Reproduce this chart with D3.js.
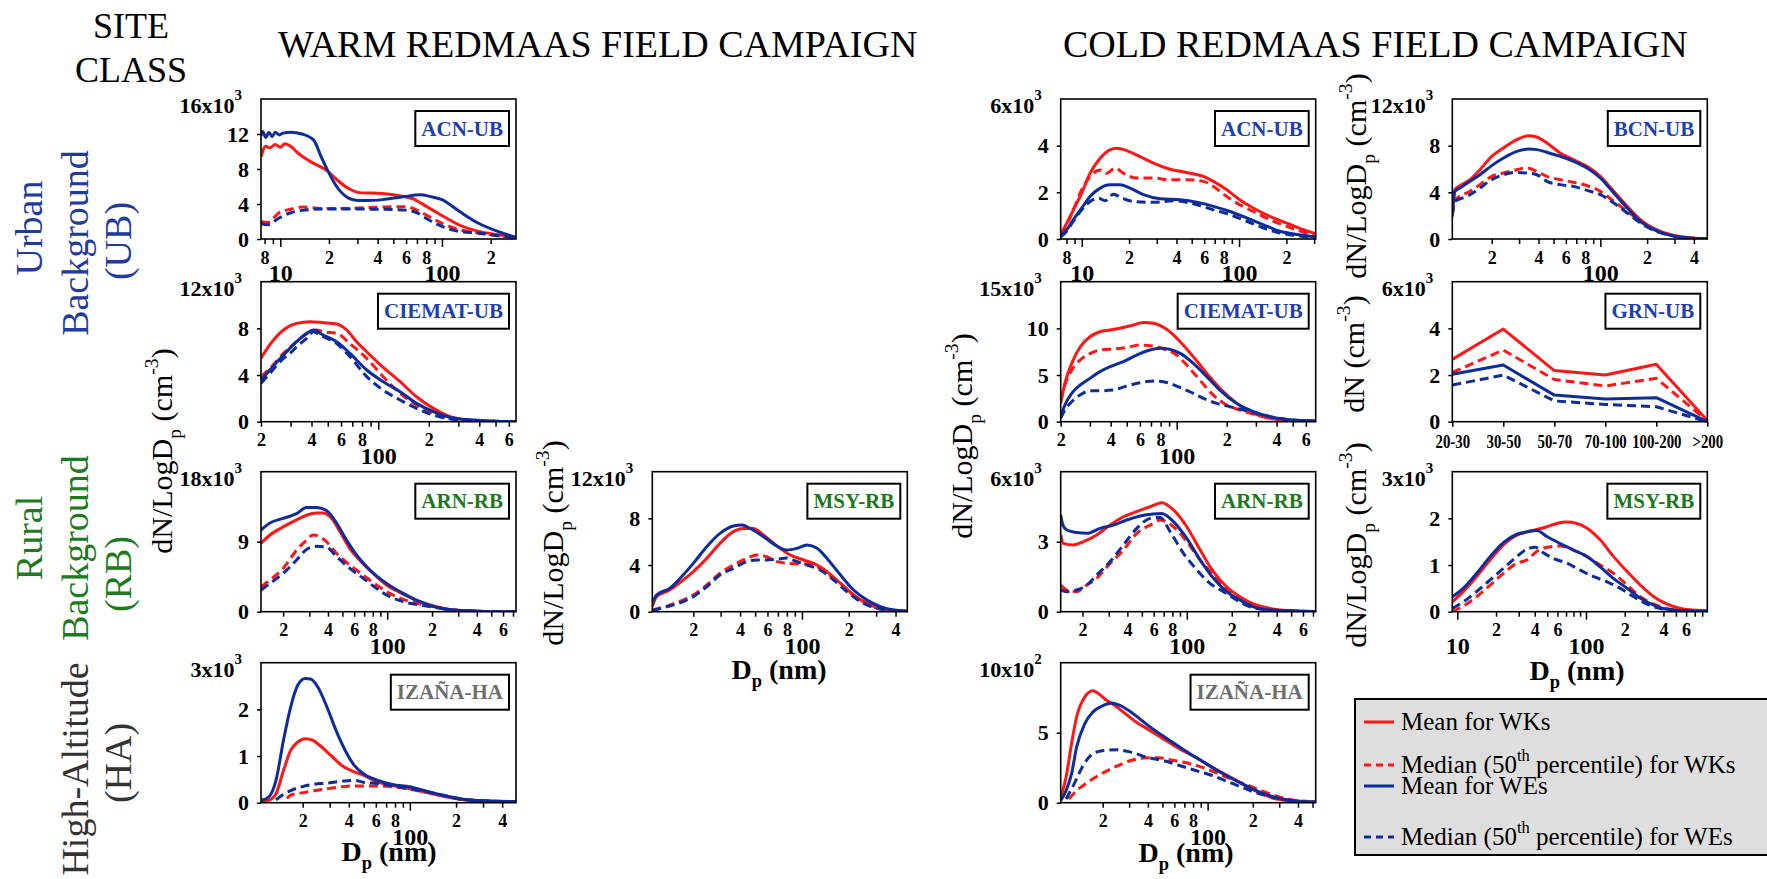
<!DOCTYPE html>
<html>
<head>
<meta charset="utf-8">
<script src="https://cdn.jsdelivr.net/npm/d3@7"></script>
<style>
  body { margin: 0; background: #fff; }
  svg { display: block; }
  text { font-family: "Liberation Serif", "Times New Roman", serif; }
</style>
</head>
<body>
<svg id="chart" width="1767" height="879"></svg>
<script>
// ---------- Size distributions: [Dp (nm), dN/dlogDp (x10^3 cm^-3)] ----------
// WARM campaign
const warmAcnWkMean = [[7.61,9.4],[8.13,10.6],[8.6,10.4],[9.32,10.8],[10.0,10.5],[10.7,10.9],[11.6,10.6],[12.9,9.8],[15.2,8.9],[19.8,7.7],[22.3,6.8],[26.3,5.8],[30.9,5.3],[42.9,5.2],[56.4,4.9],[66.4,4.6],[74.1,4.1],[97.3,2.8],[128,1.6],[168,0.87],[221,0.5],[287,0.2]];
const warmAcnWkMedian = [[7.61,2.0],[8.35,1.9],[9.84,3.0],[11.6,3.4],[13.65,3.65],[17.9,3.5],[24.9,3.5],[42.9,3.65],[59.6,3.7],[70.1,3.3],[82.6,2.6],[100,1.8],[128,1.06],[168,0.68],[221,0.38],[287,0.19]];
const warmAcnWeMean = [[7.61,11.8],[7.8,12.3],[8.13,11.6],[8.5,12.2],[8.9,11.7],[9.32,12.2],[9.84,11.9],[10.4,12.1],[11.6,12.2],[13.65,12.0],[16.1,11.3],[17.9,9.4],[19.8,7.7],[22.3,6.0],[26.3,4.7],[30.1,4.4],[34.5,4.4],[42.9,4.5],[56.4,4.8],[74.1,5.06],[82.6,4.9],[100,4.5],[128,3.16],[168,1.8],[221,0.87],[287,0.2]];
const warmAcnWeMedian = [[7.61,1.75],[8.35,1.63],[9.84,2.4],[11.6,3.0],[13.65,3.27],[17.9,3.42],[24.9,3.42],[42.9,3.4],[59.6,3.3],[70.1,3.0],[82.6,2.2],[100,1.44],[128,0.87],[168,0.68],[221,0.38],[287,0.15]];

const warmCiematWkMean = [[20,5.43],[22.6,6.6],[27.2,7.86],[32.6,8.43],[39.2,8.57],[47,8.49],[56.5,8.37],[64.8,7.86],[74.3,6.86],[85.3,6.0],[107,4.66],[135,3.43],[169,2.14],[213,1.14],[268,0.43],[336,0.14],[423,0.06],[531,0.02],[662,0]];
const warmCiematWkMedian = [[20,3.86],[22.6,4.57],[27.2,5.86],[32.6,6.86],[39.2,7.7],[42.9,7.86],[47,7.7],[56.5,7.57],[67.8,6.7],[85.3,5.43],[107,3.86],[135,2.43],[169,1.43],[213,0.71],[268,0.29],[423,0.06],[662,0]];
const warmCiematWeMean = [[20,3.57],[22.6,4.43],[27.2,5.71],[32.6,6.86],[37.4,7.57],[41,7.86],[47,7.43],[56.5,6.86],[67.8,5.86],[85.3,4.43],[107,3.43],[135,2.57],[169,1.57],[213,0.86],[268,0.37],[423,0.09],[662,0]];
const warmCiematWeMedian = [[20,3.29],[22.6,4.14],[27.2,5.43],[29.8,5.86],[32.6,6.43],[37.4,7.14],[41,7.7],[47,7.29],[56.5,6.7],[67.8,5.57],[85.3,3.86],[107,2.71],[135,1.86],[169,1.14],[213,0.57],[268,0.23],[423,0.06],[662,0]];

const warmArnWkMean = [[14.2,8.8],[16.3,9.86],[20,10.9],[24.6,11.8],[28.7,12.4],[33.5,12.7],[37.1,12.7],[42.3,12.0],[48.1,10.3],[56.1,8.1],[65.5,6.6],[80.5,4.93],[99,3.43],[128,2.27],[166,1.29],[215,0.64],[278,0.21],[442,0.04],[732,0]];
const warmArnWkMedian = [[14.2,3.2],[16.3,4.07],[20,5.57],[24.6,7.9],[28.7,9.2],[31.8,9.86],[35.3,9.64],[39.1,9.0],[45.7,7.5],[56.1,6.0],[69,4.7],[84.8,3.43],[104,2.36],[128,1.59],[166,0.99],[215,0.56],[278,0.21],[442,0.04],[732,0]];
const warmArnWeMean = [[14.2,10.5],[16.3,11.4],[20,12.0],[24.6,12.6],[28.7,13.4],[33.5,13.4],[39.1,13.0],[45.7,11.4],[53.3,9.2],[62.2,7.3],[76.5,5.36],[99,3.64],[128,2.36],[166,1.29],[215,0.56],[278,0.21],[442,0.04],[732,0]];
const warmArnWeMedian = [[14.2,2.79],[16.3,3.64],[20,4.93],[24.6,6.64],[28.7,8.0],[33.5,8.4],[39.1,8.3],[45.7,7.07],[56.1,5.57],[69,4.29],[84.8,3.0],[104,1.93],[128,1.29],[166,0.86],[215,0.51],[278,0.21],[442,0.04],[732,0]];

const warmMsyWkMean = [[10.9,0.43],[11.6,1.29],[14.1,1.86],[17.2,2.71],[20,3.43],[24.4,4.57],[29.7,5.86],[36.2,6.86],[42,7.14],[48.8,7.14],[56.6,6.57],[69,5.63],[84.1,4.86],[102.5,4.43],[125,4.0],[145,3.43],[177,2.43],[215,1.43],[262,0.71],[320,0.29],[476,0.03]];
const warmMsyWkMedian = [[10.9,0.14],[14.1,0.57],[17.2,1.0],[20,1.43],[24.4,2.29],[29.7,3.29],[36.2,4.0],[44.2,4.57],[51.3,4.86],[59.4,4.71],[69,4.29],[84.1,4.14],[102.5,4.09],[125,3.86],[145,3.29],[177,2.43],[215,1.43],[262,0.71],[320,0.23],[476,0]];
const warmMsyWeMean = [[10.9,0.71],[11.6,1.43],[14.1,2.0],[17.2,3.14],[20,4.14],[24.4,5.57],[29.7,6.71],[36.2,7.34],[41,7.43],[46.4,7.14],[56.6,6.43],[69,5.63],[80,5.29],[92.8,5.43],[107.7,5.71],[125,5.43],[145,4.57],[177,3.14],[215,1.86],[262,1.0],[320,0.43],[390,0.14],[476,0.05]];
const warmMsyWeMedian = [[10.9,0.09],[14.1,0.49],[17.2,0.86],[20,1.29],[24.4,2.14],[29.7,3.14],[36.2,3.71],[44.2,4.29],[51.3,4.43],[59.4,4.43],[69,4.5],[80,4.6],[88.3,4.4],[107.7,4.0],[131,3.57],[160,2.71],[195,1.71],[238,0.86],[290,0.37],[476,0]];

const warmIzaWkMean = [[10.7,0.03],[12.0,0.05],[13.4,0.19],[15.0,0.69],[16.7,1.12],[18.6,1.3],[20.8,1.37],[23.2,1.34],[25.8,1.23],[30.4,1.02],[35.9,0.8],[43.4,0.66],[49.7,0.59],[61.9,0.44],[77,0.37],[100,0.3],[133,0.21],[175,0.12],[229,0.06],[492,0.02]];
const warmIzaWkMedian = [[15.8,0.09],[16.7,0.16],[19.7,0.21],[23.2,0.25],[28.8,0.3],[35.9,0.34],[43.4,0.36],[49.7,0.36],[61.9,0.36],[77,0.34],[100,0.29],[133,0.21],[175,0.14],[229,0.07],[492,0.02]];
const warmIzaWeMean = [[10.7,0.05],[12.0,0.12],[13.4,0.48],[15.0,1.34],[16.7,2.05],[18.6,2.52],[20.8,2.66],[22.5,2.65],[25.1,2.48],[28.8,2.05],[33,1.55],[37.9,1.12],[43.4,0.8],[49.7,0.62],[61.9,0.48],[77,0.39],[100,0.34],[133,0.23],[175,0.14],[229,0.07],[318,0.04],[492,0.02]];
const warmIzaWeMedian = [[13.4,0.06],[15.0,0.18],[16.7,0.26],[19.7,0.34],[23.2,0.39],[28.8,0.42],[35.9,0.46],[43.4,0.48],[49.7,0.44],[61.9,0.41],[77,0.36],[100,0.3],[133,0.23],[175,0.14],[229,0.06],[492,0.02]];

// COLD campaign
const coldAcnWkMean = [[7.35,0.19],[8.03,0.68],[8.85,1.25],[10,1.97],[11.3,2.82],[13.1,3.46],[15.1,3.82],[16.7,3.89],[19.3,3.79],[23.5,3.53],[28.6,3.25],[36.4,2.99],[46.5,2.85],[59.4,2.68],[68.7,2.47],[83.5,2.11],[101,1.68],[123,1.33],[157,0.97],[201,0.68],[256,0.4],[307,0.23]];
const coldAcnWkMedian = [[7.35,0.19],[8.03,0.61],[8.85,1.25],[10,2.11],[11.3,2.68],[13.1,2.96],[14.4,2.82],[16.3,3.04],[18.4,2.82],[22.4,2.61],[28.6,2.61],[36.4,2.54],[46.5,2.54],[59.4,2.47],[68.7,2.25],[83.5,1.82],[101,1.47],[123,1.18],[157,0.83],[201,0.54],[256,0.3],[307,0.14]];
const coldAcnWeMean = [[7.35,0.11],[8.03,0.4],[8.85,0.83],[10,1.33],[11.3,1.82],[13.1,2.18],[15.1,2.32],[17.5,2.32],[20.3,2.18],[24.7,1.9],[31.5,1.72],[42.2,1.68],[53.8,1.58],[68.7,1.4],[87.7,1.18],[112,0.9],[143,0.61],[182,0.33],[233,0.19],[307,0.09]];
const coldAcnWeMedian = [[7.35,0.09],[8.03,0.33],[8.85,0.76],[10,1.25],[11.3,1.61],[12.8,1.75],[14.1,1.64],[15.9,1.92],[18.0,1.75],[21.3,1.61],[28.6,1.57],[38.3,1.64],[51.3,1.51],[68.7,1.25],[87.7,1.04],[112,0.76],[143,0.47],[182,0.26],[233,0.14],[307,0.06]];

const coldBcnWkMean = [[11.15,1.94],[11.6,4.23],[12.5,4.57],[14.5,5.09],[16.8,5.94],[20,7.09],[23.8,7.8],[29,8.51],[34.5,8.86],[39,8.74],[45.3,8.23],[55.2,7.37],[67.3,6.8],[82.1,6.23],[100,5.37],[122,4.09],[149,2.8],[181,1.66],[221,0.89],[283,0.37],[362,0.14],[488,0.03]];
const coldBcnWkMedian = [[11.15,1.94],[11.6,3.37],[12.5,3.66],[14.5,4.09],[16.8,4.66],[20,5.37],[23.8,5.66],[29,5.94],[33.6,6.09],[39,5.8],[45.3,5.37],[55.2,5.09],[67.3,4.86],[82.1,4.57],[100,4.09],[122,3.23],[149,2.37],[181,1.51],[221,0.86],[283,0.37],[362,0.11],[488,0.03]];
const coldBcnWeMean = [[11.15,2.23],[11.6,4.09],[12.5,4.37],[14.5,4.94],[16.8,5.51],[20,6.29],[23.8,6.94],[29,7.51],[34.5,7.71],[39,7.66],[45.3,7.43],[55.2,7.09],[67.3,6.66],[82.1,6.09],[100,5.23],[122,3.94],[149,2.66],[181,1.51],[221,0.8],[283,0.31],[362,0.09],[488,0.03]];
const coldBcnWeMedian = [[11.15,2.09],[11.6,3.23],[12.5,3.43],[14.5,3.8],[16.8,4.37],[20,5.09],[23.8,5.51],[29,5.71],[33.6,5.66],[39,5.51],[45.3,4.94],[55.2,4.66],[67.3,4.51],[82.1,4.17],[100,3.8],[122,3.09],[149,2.23],[181,1.37],[221,0.74],[283,0.31],[362,0.09],[488,0.03]];

const coldCiematWkMean = [[20,1.96],[21.2,4.1],[23.3,6.25],[26.2,8.0],[30,9.1],[34.5,9.64],[39.7,9.82],[47.7,10.1],[54.8,10.36],[63,10.64],[72.3,10.54],[87,9.9],[105,8.57],[126,6.96],[152,5.18],[182,3.57],[230,1.96],[290,0.89],[365,0.36],[460,0.14],[688,0.04]];
const coldCiematWkMedian = [[20,2.3],[21.2,3.93],[23.3,5.54],[26.2,6.6],[30,7.3],[34.5,7.68],[41.5,7.79],[50,7.96],[60.1,8.21],[72.3,8.1],[87,7.68],[100,7.14],[115,6.07],[138,4.46],[166,2.86],[200,1.79],[241,1.25],[290,0.82],[365,0.43],[460,0.18],[688,0.04]];
const coldCiematWeMean = [[20,0.54],[21.2,1.79],[23.3,3.04],[26.2,3.93],[30,4.64],[34.5,5.36],[39.7,5.89],[47.7,6.43],[57.4,7.14],[69,7.68],[79.3,7.86],[91.1,7.75],[105,7.32],[126,6.25],[152,4.82],[182,3.39],[230,1.96],[290,1.07],[365,0.54],[460,0.25],[688,0.07]];
const coldCiematWeMedian = [[20,0.36],[21.2,1.25],[23.3,2.14],[26.2,2.86],[30,3.32],[34.5,3.32],[41.5,3.39],[50,3.82],[60.1,4.18],[72.3,4.36],[83.1,4.29],[100,3.82],[120,3.21],[145,2.5],[174,1.96],[209,1.61],[252,1.25],[303,0.89],[365,0.54],[460,0.25],[688,0.07]];

const coldArnWkMean = [[14.3,3.29],[14.9,2.93],[17.4,2.86],[20.3,3.0],[24.9,3.29],[30.6,3.71],[37.6,4.07],[46.2,4.29],[56.8,4.5],[68,4.67],[81.4,4.36],[100,3.64],[123,2.64],[151,1.71],[185,1.07],[227,0.64],[279,0.33],[361,0.14],[467,0.04],[730,0]];
const coldArnWkMedian = [[14.3,1.14],[15.7,0.93],[18.3,0.86],[21.4,1.14],[24.9,1.43],[30.6,2.07],[37.6,2.64],[46.2,3.36],[56.8,3.71],[66.3,3.93],[81.4,3.64],[100,3.0],[123,2.21],[151,1.57],[185,1.0],[227,0.57],[279,0.29],[361,0.11],[730,0]];
const coldArnWeMean = [[14.3,4.14],[14.8,3.71],[15.7,3.5],[18.3,3.39],[21.4,3.36],[26.3,3.57],[32.3,3.71],[39.6,3.93],[48.7,4.1],[59.8,4.19],[68,4.21],[81.4,3.86],[100,3.14],[123,2.21],[151,1.43],[185,0.86],[227,0.5],[279,0.21],[361,0.07],[730,0.01]];
const coldArnWeMedian = [[14.3,0.93],[15.7,0.86],[18.3,0.93],[21.4,1.14],[24.9,1.57],[30.6,2.14],[37.6,2.86],[46.2,3.57],[56.8,4.0],[66.3,4.04],[77.3,3.43],[95,2.5],[117,1.79],[143,1.21],[176,0.86],[216,0.5],[265,0.21],[361,0.07],[730,0]];

const coldMsyWkMean = [[9.14,0.21],[11.1,0.43],[14.1,0.75],[18,1.11],[22.8,1.43],[29,1.64],[34.7,1.71],[41.5,1.76],[49.7,1.82],[59.4,1.89],[71.1,1.92],[85.1,1.89],[102,1.79],[129,1.54],[164,1.18],[209,0.86],[265,0.57],[337,0.32],[428,0.16],[543,0.07],[733,0.03],[877,0.02]];
const coldMsyWkMedian = [[9.14,0.0],[11.1,0.12],[14.1,0.32],[18,0.57],[22.8,0.82],[29,1.04],[34.7,1.11],[41.5,1.29],[49.7,1.38],[63.1,1.41],[80.1,1.32],[102,1.18],[129,1.0],[164,0.82],[209,0.57],[265,0.32],[337,0.16],[428,0.07],[612,0.02]];
const coldMsyWeMean = [[9.14,0.32],[11.1,0.5],[14.1,0.82],[18,1.18],[22.8,1.48],[29,1.66],[34.7,1.71],[41.5,1.74],[49.7,1.61],[63.1,1.46],[80.1,1.32],[102,1.18],[129,0.96],[164,0.71],[209,0.5],[265,0.29],[337,0.14],[428,0.05],[612,0.02],[877,0.01]];
const coldMsyWeMedian = [[9.14,0.07],[11.1,0.21],[14.1,0.43],[18,0.68],[22.8,0.93],[29,1.18],[34.7,1.34],[40.3,1.38],[46.8,1.26],[56,1.14],[71.1,1.04],[90.3,0.89],[115,0.75],[146,0.64],[185,0.5],[235,0.32],[299,0.16],[379,0.07],[612,0.02]];

// IZAÑA cold values are in units of 10^2 cm^-3
const coldIzaWkMean = [[10.5,0.38],[11.4,1.82],[12.4,4.21],[13.4,6.12],[15.2,7.56],[17.2,7.99],[18.7,7.8],[21.2,7.32],[24,6.96],[28.3,6.36],[33.4,5.77],[39.5,5.29],[50.6,4.57],[64.9,3.85],[83.3,3.25],[107,2.54],[149,1.7],[207,0.86],[289,0.26],[402,0.1],[524,0.05]];
const coldIzaWkMedian = [[11.9,0.26],[13.4,0.86],[15.9,1.46],[18.7,1.94],[24,2.54],[30.8,3.01],[39.5,3.21],[46.6,3.21],[59.8,3.01],[76.6,2.78],[98.3,2.42],[126,1.94],[176,1.34],[245,0.74],[341,0.26],[524,0.05]];
const coldIzaWeMean = [[10.5,0.14],[11.4,0.86],[12.4,2.06],[13.4,3.97],[15.2,5.65],[17.2,6.48],[20.3,6.96],[23,7.13],[26.1,6.96],[30.8,6.48],[36.3,5.89],[42.9,5.29],[55,4.5],[70.5,3.73],[90.5,3.01],[116,2.3],[162,1.46],[225,0.74],[314,0.26],[402,0.1],[524,0.05]];
const coldIzaWeMedian = [[11.4,0.26],[12.9,1.34],[14.6,2.54],[17.2,3.49],[20.3,3.73],[25,3.78],[30.8,3.61],[39.5,3.25],[50.6,3.01],[64.9,2.66],[83.3,2.3],[107,1.94],[149,1.34],[207,0.74],[289,0.33],[402,0.1],[524,0.05]];

// GRN-UB: binned number concentrations (x10^3 cm^-3)
const grnBins = ["20-30", "30-50", "50-70", "70-100", "100-200", ">200"];
const grnWkMean = [2.67, 3.97, 2.19, 2.0, 2.46, 0.05];
const grnWkMedian = [2.11, 3.07, 1.81, 1.53, 1.86, 0.03];
const grnWeMean = [2.03, 2.43, 1.14, 0.97, 1.03, 0.0];
const grnWeMedian = [1.57, 2.0, 0.89, 0.74, 0.64, 0.0];

const legendLabels = ["Mean for WKs", "Median (50th percentile) for WKs", "Mean for WEs", "Median (50th percentile) for WEs"];

// ---------- styling & layout ----------
const W = 255, H = 140;
const RED = "#ff1616", BLUE = "#0e2d9c";
const SITE_COLORS = { UB: "#1f3faa", RB: "#1c7a1c", HA: "#6e6e6e" };
const seriesStyle = [
  { color: RED, dash: null },
  { color: RED, dash: "9,5" },
  { color: BLUE, dash: null },
  { color: BLUE, dash: "9,5" }
];

const logPanels = [
  { label: "ACN-UB", kind: "UB", left: 261, top: 99, xDomain: [7.6, 287], yMax: 16, yTicks: [0,4,8,12], topLabel: ["16x10", "3"], series: [warmAcnWkMean, warmAcnWkMedian, warmAcnWeMean, warmAcnWeMedian] },
  { label: "CIEMAT-UB", kind: "UB", left: 261, top: 281.7, xDomain: [20, 662], yMax: 12, yTicks: [0,4,8], topLabel: ["12x10", "3"], series: [warmCiematWkMean, warmCiematWkMedian, warmCiematWeMean, warmCiematWeMedian] },
  { label: "ARN-RB", kind: "RB", left: 261, top: 471.7, xDomain: [14.2, 733], yMax: 18, yTicks: [0,9], topLabel: ["18x10", "3"], series: [warmArnWkMean, warmArnWkMedian, warmArnWeMean, warmArnWeMedian] },
  { label: "MSY-RB", kind: "RB", left: 652.3, top: 471.7, xDomain: [10.9, 476], yMax: 12, yTicks: [0,4,8], topLabel: ["12x10", "3"], series: [warmMsyWkMean, warmMsyWkMedian, warmMsyWeMean, warmMsyWeMedian] },
  { label: "IZAÑA-HA", kind: "HA", left: 261, top: 662.7, xDomain: [10.7, 492], yMax: 3, yTicks: [0,1,2], topLabel: ["3x10", "3"], series: [warmIzaWkMean, warmIzaWkMedian, warmIzaWeMean, warmIzaWeMedian] },
  { label: "ACN-UB", kind: "UB", left: 1060.7, top: 99, xDomain: [7.35, 307], yMax: 6, yTicks: [0,2,4], topLabel: ["6x10", "3"], series: [coldAcnWkMean, coldAcnWkMedian, coldAcnWeMean, coldAcnWeMedian] },
  { label: "BCN-UB", kind: "UB", left: 1452.3, top: 99, xDomain: [11.15, 488], yMax: 12, yTicks: [0,4,8], topLabel: ["12x10", "3"], series: [coldBcnWkMean, coldBcnWkMedian, coldBcnWeMean, coldBcnWeMedian] },
  { label: "CIEMAT-UB", kind: "UB", left: 1060.7, top: 281.7, xDomain: [20, 688], yMax: 15, yTicks: [0,5,10], topLabel: ["15x10", "3"], series: [coldCiematWkMean, coldCiematWkMedian, coldCiematWeMean, coldCiematWeMedian] },
  { label: "ARN-RB", kind: "RB", left: 1060.7, top: 471.7, xDomain: [14.3, 730], yMax: 6, yTicks: [0,3], topLabel: ["6x10", "3"], series: [coldArnWkMean, coldArnWkMedian, coldArnWeMean, coldArnWeMedian] },
  { label: "MSY-RB", kind: "RB", left: 1452.3, top: 471.7, xDomain: [9.14, 877], yMax: 3, yTicks: [0,1,2], topLabel: ["3x10", "3"], minorLabels: [2,4,6], series: [coldMsyWkMean, coldMsyWkMedian, coldMsyWeMean, coldMsyWeMedian] },
  { label: "IZAÑA-HA", kind: "HA", left: 1060.7, top: 662.7, xDomain: [10.5, 525], yMax: 10, yTicks: [0,5], topLabel: ["10x10", "2"], series: [coldIzaWkMean, coldIzaWkMedian, coldIzaWeMean, coldIzaWeMedian] }
];

const svg = d3.select("#chart");
let clipId = 0;

// rich text helper: parts of {t, sub, sup}
function rich(textSel, parts, size) {
  let shift = 0;
  parts.forEach(p => {
    const target = p.sub ? size * 0.3 : p.sup ? -size * 0.48 : 0;
    textSel.append("tspan")
      .attr("dy", target - shift)
      .attr("font-size", (p.sub || p.sup) ? size * 0.66 : size)
      .text(p.t);
    shift = target;
  });
  return textSel;
}

function frameAndYAxis(g, y, p) {
  const ya = d3.axisLeft(y).tickValues(p.yTicks).tickSize(4).tickPadding(8).tickSizeOuter(0).tickFormat(d3.format("d"));
  const yg = g.append("g").call(ya);
  yg.select(".domain").remove();
  yg.selectAll("line").attr("stroke", "#000").attr("stroke-width", 1.5);
  yg.selectAll("text").attr("font-size", 22).attr("font-weight", "bold").attr("fill", "#000")
    .style("font-family", "'Liberation Serif', serif");
  const tl = g.append("text").attr("x", -19).attr("y", 14).attr("text-anchor", "end")
    .attr("font-weight", "bold").attr("fill", "#000");
  tl.append("tspan").attr("font-size", 22).text(p.topLabel[0]);
  tl.append("tspan").attr("font-size", 15).attr("dy", -13).text(p.topLabel[1]);
}

function siteBox(g, p) {
  const box = g.append("g");
  const rect = box.append("rect");
  const t = box.append("text").attr("font-size", 21).attr("font-weight", "bold")
    .attr("fill", SITE_COLORS[p.kind]).attr("text-anchor", "end").text(p.label);
  const tw = t.node().getComputedTextLength();
  const bw = tw + 12, bh = 35, bx = W - 7 - bw, by = 12;
  rect.attr("x", bx).attr("y", by).attr("width", bw).attr("height", bh)
    .attr("fill", "#fff").attr("stroke", "#000").attr("stroke-width", 2);
  t.attr("x", bx + bw - 6).attr("y", by + bh / 2 + 7);
}

function drawLogPanel(p) {
  const g = svg.append("g").attr("transform", `translate(${p.left},${p.top})`);
  const x = d3.scaleLog().domain(p.xDomain).range([0, W]);
  const y = d3.scaleLinear().domain([0, p.yMax]).range([H, 0]);

  const minor = [], decades = [];
  for (let d = 1; d <= 1000; d *= 10) {
    for (let m = 1; m <= 9; m++) {
      const v = m * d;
      if (v >= p.xDomain[0] * 0.999 && v <= p.xDomain[1] * 1.001) (m === 1 ? decades : minor).push(v);
    }
  }
  const labelled = p.minorLabels || [2, 4, 6, 8];
  const mAxis = d3.axisBottom(x).tickValues(minor).tickSize(5).tickPadding(7).tickSizeOuter(0)
    .tickFormat(v => { const m = Math.round(v / Math.pow(10, Math.floor(Math.log10(v) + 1e-9))); return labelled.includes(m) ? m : ""; });
  const mg = g.append("g").attr("transform", `translate(0,${H})`).call(mAxis);
  mg.select(".domain").remove();
  mg.selectAll("line").attr("stroke", "#000").attr("stroke-width", 1.5);
  mg.selectAll("text").attr("font-size", 18).attr("font-weight", "bold").attr("fill", "#000")
    .style("font-family", "'Liberation Serif', serif");

  const dAxis = d3.axisBottom(x).tickValues(decades).tickSize(8).tickPadding(17).tickSizeOuter(0).tickFormat(d3.format("d"));
  const dg = g.append("g").attr("transform", `translate(0,${H})`).call(dAxis);
  dg.select(".domain").remove();
  dg.selectAll("line").attr("stroke", "#000").attr("stroke-width", 1.5);
  dg.selectAll("text").attr("font-size", 24).attr("font-weight", "bold").attr("fill", "#000")
    .style("font-family", "'Liberation Serif', serif");

  frameAndYAxis(g, y, p);

  const cid = "clip" + (clipId++);
  g.append("clipPath").attr("id", cid).append("rect").attr("width", W).attr("height", H);
  const line = d3.line().x(d => x(d[0])).y(d => y(d[1])).curve(d3.curveMonotoneX);
  const lg = g.append("g").attr("clip-path", `url(#${cid})`);
  p.series.forEach((s, i) => {
    lg.append("path").attr("d", line(s)).attr("fill", "none")
      .attr("stroke", seriesStyle[i].color).attr("stroke-width", 3)
      .attr("stroke-dasharray", seriesStyle[i].dash)
      .attr("stroke-linejoin", "round");
  });

  g.append("rect").attr("width", W).attr("height", H).attr("fill", "none").attr("stroke", "#000").attr("stroke-width", 1.6);
  siteBox(g, p);
}

logPanels.forEach(drawLogPanel);

// GRN-UB binned panel
(function () {
  const p = { label: "GRN-UB", kind: "UB", left: 1452.3, top: 281.7, yMax: 6, yTicks: [0,2,4], topLabel: ["6x10", "3"] };
  const g = svg.append("g").attr("transform", `translate(${p.left},${p.top})`);
  const x = d3.scalePoint().domain(grnBins).range([0, W]);
  const y = d3.scaleLinear().domain([0, p.yMax]).range([H, 0]);
  const xa = d3.axisBottom(x).tickSize(5).tickPadding(8).tickSizeOuter(0);
  const xg = g.append("g").attr("transform", `translate(0,${H})`).call(xa);
  xg.select(".domain").remove();
  xg.selectAll("line").attr("stroke", "#000").attr("stroke-width", 1.5);
  xg.selectAll("text").attr("font-size", 19).attr("font-weight", "bold").attr("fill", "#000")
    .attr("transform", "scale(0.78,1)").style("font-family", "'Liberation Serif', serif");
  frameAndYAxis(g, y, p);
  const line = d3.line().x((d, i) => x(grnBins[i])).y(d => y(d));
  [grnWkMean, grnWkMedian, grnWeMean, grnWeMedian].forEach((s, i) => {
    g.append("path").attr("d", line(s)).attr("fill", "none")
      .attr("stroke", seriesStyle[i].color).attr("stroke-width", 3)
      .attr("stroke-dasharray", seriesStyle[i].dash).attr("stroke-linejoin", "round");
  });
  g.append("rect").attr("width", W).attr("height", H).attr("fill", "none").attr("stroke", "#000").attr("stroke-width", 1.6);
  siteBox(g, p);
})();

// ---------- titles ----------
svg.append("text").attr("x", 278).attr("y", 57).attr("font-size", 38).text("WARM REDMAAS FIELD CAMPAIGN");
svg.append("text").attr("x", 1063).attr("y", 57).attr("font-size", 38).text("COLD REDMAAS FIELD CAMPAIGN");
svg.append("text").attr("x", 131).attr("y", 38).attr("font-size", 36).attr("text-anchor", "middle").text("SITE");
svg.append("text").attr("x", 131).attr("y", 82).attr("font-size", 36).attr("text-anchor", "middle").text("CLASS");

// site class row labels (rotated)
function rowLabel(txt, bx, cy, color) {
  svg.append("text").attr("transform", `translate(${bx},${cy}) rotate(-90)`)
    .attr("text-anchor", "middle").attr("font-size", 38).attr("fill", color).text(txt);
}
rowLabel("Urban", 42, 228, "#1f3b9c");
rowLabel("Background", 88, 243, "#1f3b9c");
rowLabel("(UB)", 131, 241, "#1f3b9c");
rowLabel("Rural", 42, 538, "#1e7a1e");
rowLabel("Background", 88, 548, "#1e7a1e");
rowLabel("(RB)", 131, 574, "#1e7a1e");
rowLabel("High-Altitude", 88, 769, "#333");
rowLabel("(HA)", 131, 763, "#333");

// axis titles
const yTitleParts = [{ t: "dN/LogD" }, { t: "p", sub: true }, { t: " (cm" }, { t: "-3", sup: true }, { t: ")" }];
const grnTitleParts = [{ t: "dN (cm" }, { t: "-3", sup: true }, { t: ")" }];
function yTitle(parts, bx, cy) {
  const t = svg.append("text").attr("transform", `translate(${bx},${cy}) rotate(-90)`).attr("text-anchor", "middle").attr("fill", "#000");
  rich(t, parts, 30);
}
yTitle(yTitleParts, 172, 451);
yTitle(yTitleParts, 563, 543);
yTitle(yTitleParts, 972, 436);
yTitle(yTitleParts, 1366, 176);
yTitle(grnTitleParts, 1364, 354);
yTitle(yTitleParts, 1366, 545);

const xTitleParts = [{ t: "D" }, { t: "p", sub: true }, { t: " (nm)" }];
function xTitle(cx, by) {
  const t = svg.append("text").attr("x", cx).attr("y", by).attr("text-anchor", "middle").attr("font-weight", "bold").attr("fill", "#000");
  rich(t, xTitleParts, 28);
}
xTitle(779, 679);
xTitle(389, 861);
xTitle(1577, 680);
xTitle(1186, 862);

// ---------- legend ----------
(function () {
  const lg = svg.append("g");
  lg.append("rect").attr("x", 1355).attr("y", 699).attr("width", 430).attr("height", 156)
    .attr("fill", "#dedede").attr("stroke", "#000").attr("stroke-width", 2);
  const rows = [722, 765, 786, 837];
  const baselines = [730, 773, 794, 845];
  legendLabels.forEach((lab, i) => {
    lg.append("line").attr("x1", 1364).attr("x2", 1394).attr("y1", rows[i]).attr("y2", rows[i])
      .attr("stroke", seriesStyle[i].color).attr("stroke-width", 3).attr("stroke-dasharray", seriesStyle[i].dash ? "7,5" : null);
    const t = lg.append("text").attr("x", 1401).attr("y", baselines[i]).attr("fill", "#000");
    const m = lab.match(/^(.*\(50)(th)( .*)$/);
    if (m) rich(t, [{ t: m[1] }, { t: m[2], sup: true }, { t: m[3] }], 25);
    else t.attr("font-size", 25).text(lab);
  });
})();
</script>
</body>
</html>
